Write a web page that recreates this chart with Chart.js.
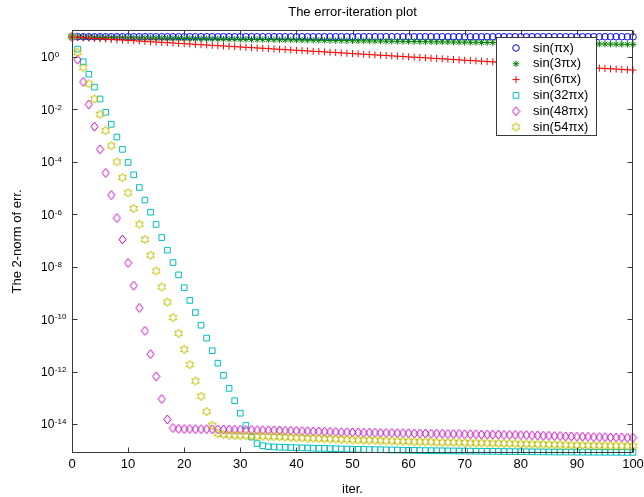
<!DOCTYPE html>
<html>
<head>
<meta charset="utf-8">
<script src="https://cdn.jsdelivr.net/npm/chart.js@4"></script>
<style>
  html, body { margin: 0; padding: 0; background: #fff; }
  canvas { display: block; }
</style>
</head>
<body>
<canvas id="errPlot" width="644" height="497"></canvas>
<script>
// iteration counter
const iters = [
  0, 1, 2, 3, 4, 5, 6, 7, 8, 9,
  10, 11, 12, 13, 14, 15, 16, 17, 18, 19,
  20, 21, 22, 23, 24, 25, 26, 27, 28, 29,
  30, 31, 32, 33, 34, 35, 36, 37, 38, 39,
  40, 41, 42, 43, 44, 45, 46, 47, 48, 49,
  50, 51, 52, 53, 54, 55, 56, 57, 58, 59,
  60, 61, 62, 63, 64, 65, 66, 67, 68, 69,
  70, 71, 72, 73, 74, 75, 76, 77, 78, 79,
  80, 81, 82, 83, 84, 85, 86, 87, 88, 89,
  90, 91, 92, 93, 94, 95, 96, 97, 98, 99,
  100
];

// 2-norm of the error after each iteration, one list per initial guess
const errSin1 = [
  5.9, 5.9, 5.9, 5.9, 5.9, 5.9, 5.9, 5.9, 5.9, 5.9,
  5.9, 5.9, 5.9, 5.9, 5.9, 5.9, 5.9, 5.9, 5.9, 5.9,
  5.9, 5.9, 5.9, 5.9, 5.9, 5.9, 5.9, 5.9, 5.9, 5.9,
  5.9, 5.9, 5.9, 5.9, 5.9, 5.9, 5.9, 5.9, 5.9, 5.9,
  5.9, 5.9, 5.9, 5.9, 5.9, 5.9, 5.9, 5.9, 5.9, 5.9,
  5.9, 5.9, 5.9, 5.9, 5.9, 5.9, 5.9, 5.9, 5.9, 5.9,
  5.9, 5.9, 5.9, 5.9, 5.9, 5.9, 5.9, 5.9, 5.9, 5.9,
  5.9, 5.9, 5.9, 5.9, 5.9, 5.9, 5.9, 5.9, 5.9, 5.9,
  5.9, 5.9, 5.9, 5.9, 5.9, 5.9, 5.9, 5.9, 5.9, 5.9,
  5.9, 5.9, 5.9, 5.9, 5.9, 5.9, 5.9, 5.9, 5.9, 5.9,
  5.9
];

const errSin3 = [
  5.75, 5.71, 5.68, 5.64, 5.61, 5.57, 5.53, 5.50, 5.46, 5.43,
  5.39, 5.36, 5.32, 5.29, 5.26, 5.22, 5.19, 5.16, 5.12, 5.09,
  5.06, 5.03, 4.99, 4.96, 4.93, 4.90, 4.87, 4.84, 4.80, 4.77,
  4.74, 4.71, 4.68, 4.65, 4.62, 4.59, 4.56, 4.53, 4.51, 4.48,
  4.45, 4.42, 4.39, 4.36, 4.34, 4.31, 4.28, 4.25, 4.23, 4.20,
  4.17, 4.14, 4.12, 4.09, 4.07, 4.04, 4.01, 3.99, 3.96, 3.94,
  3.91, 3.89, 3.86, 3.84, 3.81, 3.79, 3.76, 3.74, 3.71, 3.69,
  3.66, 3.64, 3.62, 3.59, 3.57, 3.55, 3.52, 3.50, 3.48, 3.45,
  3.43, 3.41, 3.39, 3.37, 3.34, 3.32, 3.30, 3.28, 3.26, 3.24,
  3.22, 3.20, 3.18, 3.16, 3.14, 3.12, 3.10, 3.08, 3.06, 3.04,
  3.02
];

const errSin6 = [
  5.75, 5.59, 5.43, 5.27, 5.12, 4.97, 4.83, 4.69, 4.56, 4.43,
  4.30, 4.18, 4.06, 3.94, 3.83, 3.72, 3.61, 3.51, 3.41, 3.31,
  3.22, 3.13, 3.04, 2.95, 2.87, 2.78, 2.70, 2.63, 2.55, 2.48,
  2.41, 2.34, 2.27, 2.21, 2.15, 2.08, 2.02, 1.97, 1.91, 1.86,
  1.80, 1.75, 1.70, 1.65, 1.61, 1.56, 1.52, 1.47, 1.43, 1.39,
  1.35, 1.31, 1.27, 1.24, 1.20, 1.17, 1.14, 1.10, 1.07, 1.04,
  1.01, 0.98, 0.955, 0.928, 0.901, 0.875, 0.850, 0.826, 0.802, 0.779,
  0.754, 0.733, 0.712, 0.691, 0.672, 0.652, 0.634, 0.616, 0.598, 0.581,
  0.564, 0.548, 0.532, 0.517, 0.502, 0.488, 0.474, 0.460, 0.447, 0.434,
  0.422, 0.410, 0.398, 0.387, 0.376, 0.365, 0.355, 0.345, 0.335, 0.325,
  0.316
];

const errSin32 = [
  5.9, 2.0, 0.66, 0.22, 0.071, 0.025, 7.8e-3, 2.7e-3, 8.9e-4, 3.0e-4,
  9.5e-5, 3.2e-5, 1.05e-5, 3.5e-6, 1.2e-6, 4.1e-7, 1.3e-7, 4.3e-8, 1.45e-8, 4.9e-9,
  1.6e-9, 5.2e-10, 1.8e-10, 5.9e-11, 1.9e-11, 6.3e-12, 2.1e-12, 7.2e-13, 2.3e-13, 7.8e-14,
  2.6e-14, 8.9e-15, 3.2e-15, 1.8e-15, 1.5e-15, 1.38e-15, 1.35e-15, 1.32e-15, 1.30e-15, 1.28e-15,
  1.26e-15, 1.24e-15, 1.23e-15, 1.21e-15, 1.19e-15, 1.18e-15, 1.16e-15, 1.15e-15, 1.13e-15, 1.12e-15,
  1.10e-15, 1.09e-15, 1.08e-15, 1.07e-15, 1.06e-15, 1.05e-15, 1.04e-15, 1.03e-15, 1.02e-15, 1.01e-15,
  1.00e-15, 9.9e-16, 9.8e-16, 9.75e-16, 9.7e-16, 9.6e-16, 9.55e-16, 9.5e-16, 9.45e-16, 9.4e-16,
  9.35e-16, 9.3e-16, 9.25e-16, 9.2e-16, 9.15e-16, 9.1e-16, 9.05e-16, 9.0e-16, 8.95e-16, 8.9e-16,
  8.85e-16, 8.8e-16, 8.75e-16, 8.7e-16, 8.68e-16, 8.65e-16, 8.62e-16, 8.6e-16, 8.57e-16, 8.55e-16,
  8.52e-16, 8.5e-16, 8.48e-16, 8.46e-16, 8.44e-16, 8.42e-16, 8.4e-16, 8.38e-16, 8.36e-16, 8.34e-16,
  8.32e-16
];

const errSin48 = [
  5.9, 0.79, 0.112, 0.0155, 2.2e-3, 3.0e-4, 3.8e-5, 5.4e-6, 7.2e-7, 1.1e-7,
  1.4e-8, 1.9e-9, 2.7e-10, 3.6e-11, 4.7e-12, 6.6e-13, 9.1e-14, 1.5e-14, 7.1e-15, 6.6e-15,
  6.5e-15, 6.5e-15, 6.4e-15, 6.4e-15, 6.4e-15, 6.3e-15, 6.3e-15, 6.2e-15, 6.2e-15, 6.1e-15,
  6.1e-15, 6.0e-15, 6.0e-15, 5.9e-15, 5.9e-15, 5.8e-15, 5.8e-15, 5.7e-15, 5.6e-15, 5.6e-15,
  5.5e-15, 5.4e-15, 5.4e-15, 5.3e-15, 5.2e-15, 5.1e-15, 5.1e-15, 5.0e-15, 4.9e-15, 4.9e-15,
  4.8e-15, 4.8e-15, 4.7e-15, 4.7e-15, 4.7e-15, 4.6e-15, 4.6e-15, 4.6e-15, 4.5e-15, 4.5e-15,
  4.5e-15, 4.4e-15, 4.4e-15, 4.4e-15, 4.3e-15, 4.3e-15, 4.3e-15, 4.2e-15, 4.2e-15, 4.2e-15,
  4.1e-15, 4.1e-15, 4.1e-15, 4.0e-15, 4.0e-15, 4.0e-15, 4.0e-15, 3.9e-15, 3.9e-15, 3.9e-15,
  3.8e-15, 3.8e-15, 3.7e-15, 3.7e-15, 3.6e-15, 3.6e-15, 3.5e-15, 3.5e-15, 3.4e-15, 3.4e-15,
  3.3e-15, 3.3e-15, 3.3e-15, 3.2e-15, 3.2e-15, 3.2e-15, 3.1e-15, 3.1e-15, 3.1e-15, 3.0e-15,
  3.0e-15
];

const errSin54 = [
  5.9, 1.5, 0.39, 0.095, 0.025, 6.5e-3, 1.55e-3, 4.1e-4, 1.0e-4, 2.5e-5,
  6.6e-6, 1.66e-6, 4.2e-7, 1.1e-7, 2.75e-8, 6.9e-9, 1.7e-9, 4.5e-10, 1.15e-10, 2.9e-11,
  7.1e-12, 1.86e-12, 4.4e-13, 1.15e-13, 3.0e-14, 8.9e-15, 4.4e-15, 4.0e-15, 3.8e-15, 3.7e-15,
  3.6e-15, 3.6e-15, 3.5e-15, 3.5e-15, 3.4e-15, 3.4e-15, 3.3e-15, 3.3e-15, 3.2e-15, 3.1e-15,
  3.0e-15, 3.0e-15, 2.9e-15, 2.9e-15, 2.8e-15, 2.8e-15, 2.7e-15, 2.7e-15, 2.6e-15, 2.6e-15,
  2.5e-15, 2.5e-15, 2.4e-15, 2.4e-15, 2.4e-15, 2.3e-15, 2.3e-15, 2.3e-15, 2.2e-15, 2.2e-15,
  2.2e-15, 2.1e-15, 2.1e-15, 2.1e-15, 2.1e-15, 2.0e-15, 2.0e-15, 2.0e-15, 2.0e-15, 1.95e-15,
  1.95e-15, 1.9e-15, 1.9e-15, 1.9e-15, 1.87e-15, 1.86e-15, 1.84e-15, 1.82e-15, 1.8e-15, 1.78e-15,
  1.76e-15, 1.74e-15, 1.72e-15, 1.7e-15, 1.68e-15, 1.66e-15, 1.64e-15, 1.62e-15, 1.6e-15, 1.58e-15,
  1.56e-15, 1.55e-15, 1.54e-15, 1.52e-15, 1.51e-15, 1.5e-15, 1.49e-15, 1.48e-15, 1.47e-15, 1.46e-15,
  1.45e-15
];

const seriesNames = ['sin(\u03c0x)', 'sin(3\u03c0x)', 'sin(6\u03c0x)', 'sin(32\u03c0x)', 'sin(48\u03c0x)', 'sin(54\u03c0x)'];
const seriesValues = [errSin1, errSin3, errSin6, errSin32, errSin48, errSin54];

// axis ticks
const xTicks = [0, 10, 20, 30, 40, 50, 60, 70, 80, 90, 100];
const yTickPowers = [0, -2, -4, -6, -8, -10, -12, -14];

const FONT = '"Liberation Sans", Arial, Helvetica, sans-serif';
const colors = ['#0000ff', '#008000', '#ff0000', '#00bfbf', '#c000c0', '#bfbf00'];

// small offscreen canvas used as a point style
function markerCanvas(w, h, color, path) {
  const c = document.createElement('canvas');
  c.width = w; c.height = h;
  const g = c.getContext('2d');
  g.strokeStyle = color;
  g.lineWidth = 1;
  g.beginPath();
  path(g, w / 2, h / 2);
  g.closePath();
  g.stroke();
  return c;
}

// matlab 'h' marker, chart.js has no hexagram
const hexagram = color => markerCanvas(11, 11, color, (g, cx, cy) => {
  for (let k = 0; k < 12; k++) {
    const r = k % 2 ? 2.5 : 4.4;
    const a = -Math.PI / 2 + k * Math.PI / 6;
    const px = cx + r * Math.cos(a), py = cy + r * Math.sin(a);
    if (k === 0) g.moveTo(px, py); else g.lineTo(px, py);
  }
});

// matlab 'd' marker is a bit taller than wide
const diamond = color => markerCanvas(9, 11, color, (g, cx, cy) => {
  g.moveTo(cx, cy - 4.5);
  g.lineTo(cx + 3.5, cy);
  g.lineTo(cx, cy + 4.5);
  g.lineTo(cx - 3.5, cy);
});

const markers = ['circle', 'star', 'cross', 'rect', diamond(colors[4]), hexagram(colors[5])];
const markerSize = [3.3, 3.3, 3.5, 4, 4, 4.5];

// box, ticks, labels and the legend are drawn by hand on top of the chart
const matlabAxes = {
  id: 'matlabAxes',
  afterDraw(chart) {
    const { ctx, chartArea: a } = chart;
    const xs = chart.scales.x, ys = chart.scales.y;
    const L = Math.round(a.left) + 0.5, R = Math.round(a.right) - 0.5;
    const T = Math.round(a.top) + 0.5, B = Math.round(a.bottom) - 0.5;
    ctx.save();

    ctx.strokeStyle = '#3a3a3a';
    ctx.lineWidth = 1;
    ctx.strokeRect(L, T, R - L, B - T);
    ctx.beginPath();
    xTicks.forEach(v => {
      const px = Math.round(xs.getPixelForValue(v)) + 0.5;
      ctx.moveTo(px, B); ctx.lineTo(px, B - 5);
      ctx.moveTo(px, T); ctx.lineTo(px, T + 5);
    });
    yTickPowers.forEach(p => {
      const py = Math.round(ys.getPixelForValue(Math.pow(10, p))) + 0.5;
      ctx.moveTo(L, py); ctx.lineTo(L + 5, py);
      ctx.moveTo(R, py); ctx.lineTo(R - 5, py);
    });
    ctx.stroke();

    ctx.fillStyle = '#000';
    ctx.font = '13px ' + FONT;
    ctx.textAlign = 'center';
    ctx.textBaseline = 'middle';
    xTicks.forEach(v => ctx.fillText(String(v), xs.getPixelForValue(v), 464));

    // 10 with a raised exponent
    yTickPowers.forEach(p => {
      const py = ys.getPixelForValue(Math.pow(10, p));
      ctx.font = '12px ' + FONT;
      ctx.textAlign = 'left';
      ctx.textBaseline = 'middle';
      ctx.fillText('10', 41, py + 1);
      const w = ctx.measureText('10').width;
      ctx.font = '8px ' + FONT;
      ctx.textBaseline = 'top';
      ctx.fillText(String(p), 41 + w + 0.5, py - 6);
    });

    ctx.font = '13px ' + FONT;
    ctx.textAlign = 'center';
    ctx.textBaseline = 'middle';
    ctx.fillText('The error-iteration plot', (a.left + a.right) / 2, 12);
    ctx.fillText('iter.', (a.left + a.right) / 2, 489);
    ctx.save();
    ctx.translate(17, (a.top + a.bottom) / 2);
    ctx.rotate(-Math.PI / 2);
    ctx.fillText('The 2-norm of err.', 0, 0);
    ctx.restore();

    // legend
    const lx = 496.5, ly = 37.5, lw = 100, lh = 98;
    ctx.fillStyle = '#fff';
    ctx.fillRect(lx, ly, lw, lh);
    ctx.strokeStyle = '#3a3a3a';
    ctx.strokeRect(lx, ly, lw, lh);
    ctx.textAlign = 'left';
    seriesNames.forEach((name, s) => {
      const rowY = 48 + s * 15.8;
      ctx.strokeStyle = colors[s];
      ctx.fillStyle = 'rgba(0,0,0,0)';
      ctx.lineWidth = 1;
      Chart.helpers.drawPoint(ctx, {
        pointStyle: markers[s], radius: markerSize[s], rotation: 0, borderWidth: 1
      }, 516, rowY);
      ctx.fillStyle = '#000';
      ctx.fillText(name, 533, rowY);
    });
    ctx.restore();
  }
};

new Chart(document.getElementById('errPlot'), {
  type: 'scatter',
  data: {
    datasets: seriesValues.map((vals, s) => ({
      label: seriesNames[s],
      data: iters.map((it, i) => ({ x: it, y: vals[i] })),
      showLine: false,
      pointStyle: markers[s],
      pointRadius: markerSize[s],
      pointBorderColor: colors[s],
      pointBackgroundColor: 'rgba(0,0,0,0)',
      pointBorderWidth: 1,
      order: seriesValues.length - s,
      clip: false
    }))
  },
  options: {
    responsive: false,
    animation: false,
    events: [],
    layout: { padding: { left: 72, top: 30, right: 11, bottom: 44 } },
    plugins: {
      legend: { display: false },
      title: { display: false },
      tooltip: { enabled: false }
    },
    scales: {
      x: { type: 'linear', min: 0, max: 100, display: false },
      y: { type: 'logarithmic', min: 7.9e-16, max: 10.7, display: false }
    }
  },
  plugins: [matlabAxes]
});
</script>
</body>
</html>
